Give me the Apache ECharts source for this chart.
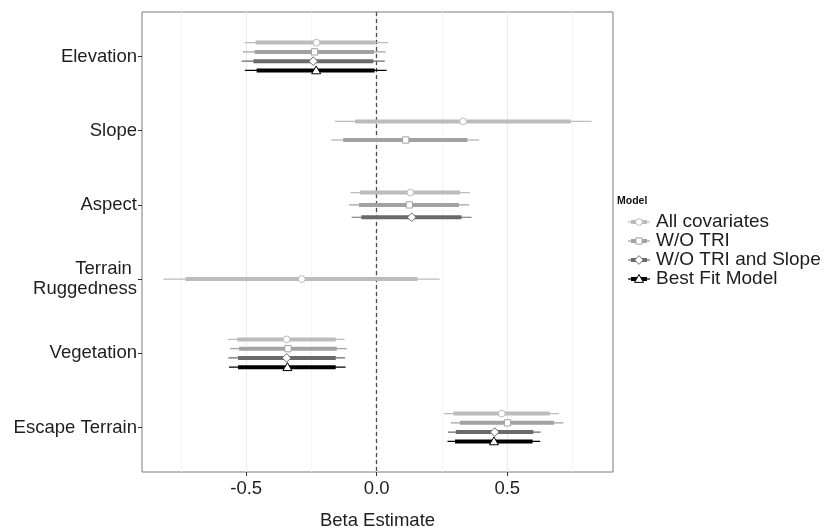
<!DOCTYPE html>
<html>
<head>
<meta charset="utf-8">
<script src="https://cdn.jsdelivr.net/npm/echarts@6/dist/echarts.min.js"></script>
<style>html,body{margin:0;padding:0;background:#fff}#c{width:825px;height:530px}</style>
</head>
<body>
<div id="c"></div>
<script>
// ---------- data ----------
const variables = ['Elevation', 'Slope', 'Aspect', 'Terrain \nRuggedness', 'Vegetation', 'Escape Terrain'];
const models = ['All covariates', 'W/O TRI', 'W/O TRI and Slope', 'Best Fit Model'];
const xTicks = [-0.5, 0.0, 0.5];
const xMinorTicks = [-0.75, -0.25, 0.25, 0.75];

// estimate, outer interval (thin), inner interval (thick); null = not in model
const allEst  = [-0.231, 0.331, 0.129, -0.287, -0.345, 0.479];
const allLo   = [-0.506, -0.160, -0.100, -0.817, -0.570, 0.258];
const allHi   = [0.043, 0.823, 0.357, 0.241, -0.123, 0.699];
const allILo  = [-0.464, -0.083, -0.064, -0.732, -0.534, 0.294];
const allIHi  = [-0.004, 0.743, 0.319, 0.156, -0.157, 0.663];

const woTriEst = [-0.238, 0.111, 0.125, null, -0.340, 0.501];
const woTriLo  = [-0.512, -0.174, -0.106, null, -0.562, 0.284];
const woTriHi  = [0.034, 0.393, 0.354, null, -0.115, 0.715];
const woTriILo = [-0.467, -0.128, -0.068, null, -0.527, 0.319];
const woTriIHi = [-0.010, 0.347, 0.315, null, -0.153, 0.679];

const woTriSlEst = [-0.243, null, 0.134, null, -0.345, 0.452];
const woTriSlLo  = [-0.517, null, -0.096, null, -0.568, 0.273];
const woTriSlHi  = [0.031, null, 0.363, null, -0.121, 0.628];
const woTriSlILo = [-0.472, null, -0.059, null, -0.531, 0.303];
const woTriSlIHi = [-0.013, null, 0.325, null, -0.157, 0.600];

const bestEst = [-0.232, null, null, null, -0.342, 0.449];
const bestLo  = [-0.505, null, null, null, -0.566, 0.271];
const bestHi  = [0.038, null, null, null, -0.119, 0.626];
const bestILo = [-0.460, null, null, null, -0.531, 0.300];
const bestIHi = [-0.008, null, null, null, -0.157, 0.597];

// ---------- styling ----------
const colors = ['#bcbcbc', '#a2a2a2', '#6a6a6a', '#000000'];
const shapes = ['circle', 'square', 'diamond', 'triangle'];
const DODGE = 0.5;
const FONT = '"Liberation Sans", Arial, sans-serif';
const TXT = '#1e1e1e';

const modelData = [
  [allEst, allLo, allHi, allILo, allIHi],
  [woTriEst, woTriLo, woTriHi, woTriILo, woTriIHi],
  [woTriSlEst, woTriSlLo, woTriSlHi, woTriSlILo, woTriSlIHi],
  [bestEst, bestLo, bestHi, bestILo, bestIHi]
];

const counts = variables.map((v, i) => modelData.filter(m => m[0][i] !== null).length);

function markerShape(kind, cx, cy, s, color) {
  const style = { fill: '#fff', stroke: color, lineWidth: 1 };
  if (kind === 'circle') return { type: 'circle', shape: { cx, cy, r: s * 0.45 }, style };
  if (kind === 'square') return { type: 'rect', shape: { x: cx - s * 0.42, y: cy - s * 0.42, width: s * 0.84, height: s * 0.84 }, style };
  if (kind === 'diamond') return { type: 'polygon', shape: { points: [[cx, cy - s * 0.58], [cx + s * 0.58, cy], [cx, cy + s * 0.58], [cx - s * 0.58, cy]] }, style };
  return { type: 'polygon', shape: { points: [[cx, cy - s * 0.6], [cx + s * 0.6, cy + s * 0.45], [cx - s * 0.6, cy + s * 0.45]] }, style };
}

const series = [];
modelData.forEach((m, mi) => {
  const data = [];
  variables.forEach((v, i) => {
    if (m[0][i] === null) return;
    let rank = 0;
    for (let k = 0; k < mi; k++) if (modelData[k][0][i] !== null) rank++;
    data.push([i, m[0][i], m[1][i], m[2][i], m[3][i], m[4][i], rank, counts[i]]);
  });
  series.push({
    type: 'custom',
    name: models[mi],
    z: 5,
    data,
    encode: { x: [1, 2, 3, 4, 5], y: 0 },
    renderItem: function (params, api) {
      const cat = api.value(0), rank = api.value(6), n = api.value(7);
      const w = DODGE / n;
      const y = cat + (rank - (n - 1) / 2) * w;
      const pE = api.coord([api.value(1), y]);
      const pLo = api.coord([api.value(2), y]);
      const pHi = api.coord([api.value(3), y]);
      const pILo = api.coord([api.value(4), y]);
      const pIHi = api.coord([api.value(5), y]);
      const c = colors[mi];
      return {
        type: 'group',
        children: [
          { type: 'line', shape: { x1: pLo[0], y1: pLo[1], x2: pHi[0], y2: pHi[1] }, style: { stroke: c, lineWidth: 1.2 } },
          { type: 'line', shape: { x1: pILo[0], y1: pILo[1], x2: pIHi[0], y2: pIHi[1] }, style: { stroke: c, lineWidth: 4 } },
          markerShape(shapes[mi], pE[0], pE[1], 7.5, c)
        ]
      };
    }
  });
});

// gridlines and zero line
series.push({
  type: 'line', data: [], silent: true, z: 1,
  markLine: {
    silent: true, symbol: 'none', animation: false,
    label: { show: false },
    data: xTicks.map(v => ({ xAxis: v, lineStyle: { color: '#ebebeb', width: 1.1, type: 'solid' } }))
      .concat(xMinorTicks.map(v => ({ xAxis: v, lineStyle: { color: '#f2f2f2', width: 0.8, type: 'solid' } })))
  }
});
series.push({
  type: 'line', data: [], silent: true, z: 10,
  markLine: {
    silent: true, symbol: 'none', animation: false,
    label: { show: false },
    data: [{ xAxis: 0, lineStyle: { color: '#4d4d4d', width: 1.3, type: [4, 3] } }]
  }
});

// legend drawn as graphics
const legendChildren = [
  { type: 'text', left: 617, top: 196, style: { text: 'Model', font: 'bold 10.5px ' + FONT, fill: '#111' } }
];
models.forEach((name, i) => {
  const cy = 222 + i * 19;
  const c = colors[i];
  legendChildren.push({ type: 'line', shape: { x1: 628, y1: cy, x2: 650, y2: cy }, style: { stroke: c, lineWidth: 1.2 } });
  legendChildren.push({ type: 'line', shape: { x1: 631, y1: cy, x2: 647, y2: cy }, style: { stroke: c, lineWidth: 4 } });
  legendChildren.push(markerShape(shapes[i], 639, cy, 7.5, c));
  legendChildren.push({ type: 'text', x: 656, y: cy, style: { text: name, font: '19px ' + FONT, fill: TXT, verticalAlign: 'middle' } });
});

const chart = echarts.init(document.getElementById('c'), null, { renderer: 'canvas' });
chart.setOption({
  animation: false,
  backgroundColor: '#fff',
  grid: { left: 142, right: 212, top: 12, bottom: 58, show: true, borderColor: '#7a7a7a', borderWidth: 1, backgroundColor: '#fff', containLabel: false, outerBoundsMode: 'none' },
  xAxis: {
    type: 'value', min: -0.899, max: 0.905,
    name: 'Beta Estimate', nameLocation: 'middle', nameGap: 39,
    nameTextStyle: { fontFamily: FONT, fontSize: 18.5, color: TXT },
    axisLine: { show: false, onZero: false },
    splitLine: { show: false },
    axisTick: { show: true, customValues: xTicks, length: 4, lineStyle: { color: '#333' } },
    axisLabel: { customValues: xTicks, formatter: v => Number(v).toFixed(1), fontFamily: FONT, fontSize: 18.5, color: TXT, margin: 7 }
  },
  yAxis: {
    type: 'value', min: -0.6, max: 5.6, inverse: true,
    axisLine: { show: false, onZero: false },
    splitLine: { show: false },
    axisTick: { show: true, customValues: [0, 1, 2, 3, 4, 5], length: 4, lineStyle: { color: '#333' } },
    axisLabel: {
      customValues: [0, 1, 2, 3, 4, 5],
      formatter: v => variables[Math.round(v)],
      fontFamily: FONT, fontSize: 18.5, color: TXT, margin: 5, lineHeight: 20, align: 'right'
    }
  },
  graphic: [{ type: 'group', children: legendChildren }],
  series
});
</script>
</body>
</html>
